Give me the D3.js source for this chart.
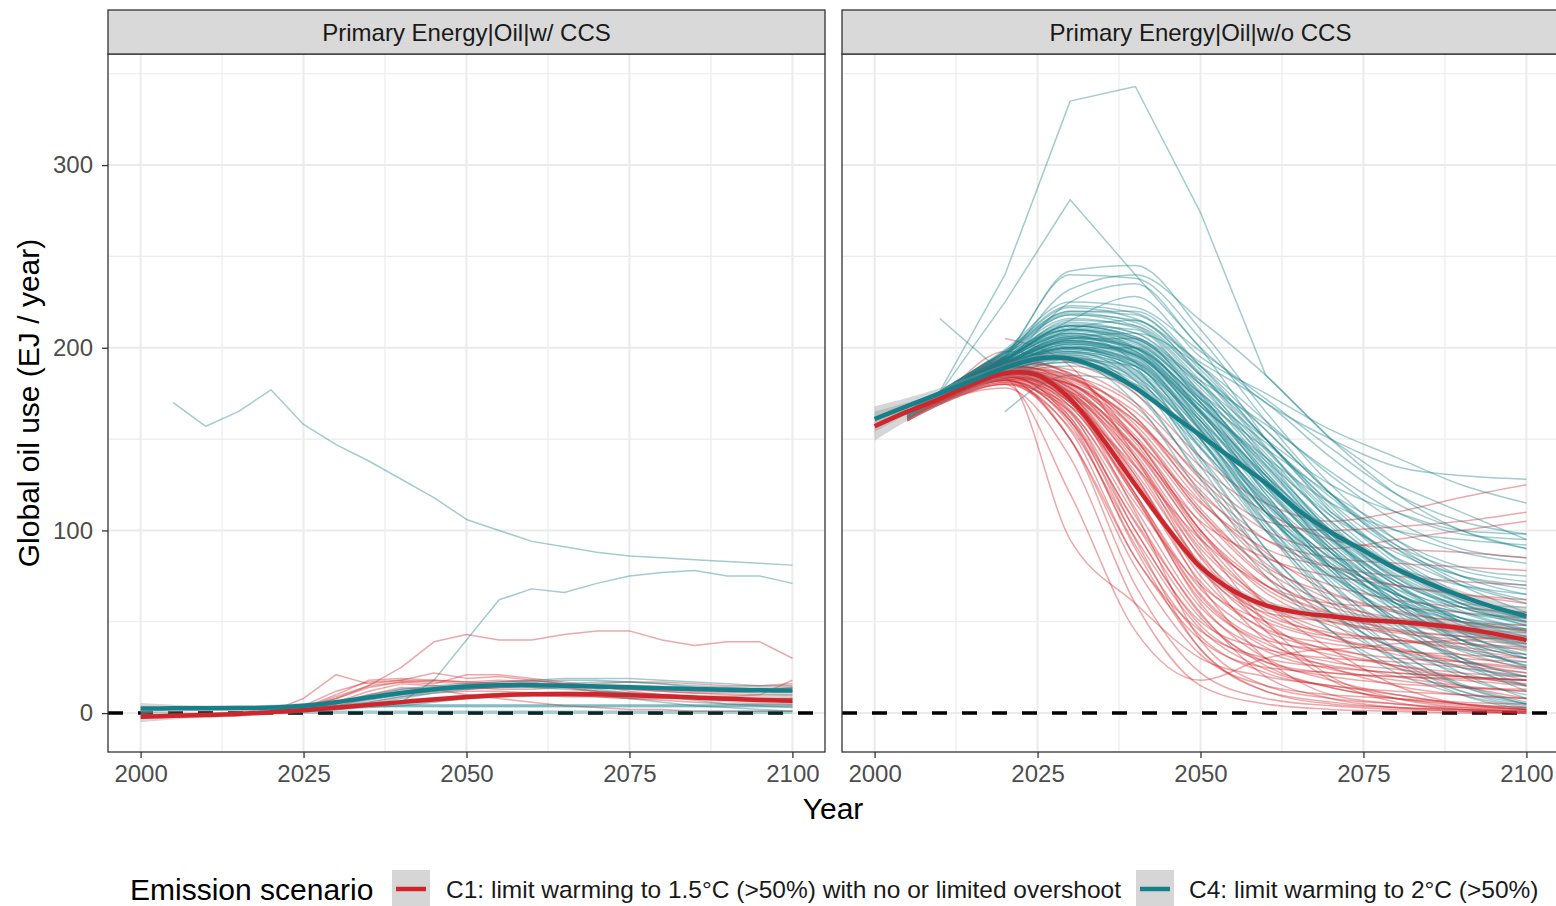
<!DOCTYPE html>
<html><head><meta charset="utf-8">
<script src="https://cdn.jsdelivr.net/npm/d3@7"></script>
<style>body{margin:0;background:#fff}svg{display:block}text{font-family:"Liberation Sans",Arial,sans-serif}</style>
</head><body><svg id="c" width="1556" height="906"></svg>
<script>
// ---------------- DATA ----------------
const facets = ["Primary Energy|Oil|w/ CCS", "Primary Energy|Oil|w/o CCS"];
const scenarios = ["C1: limit warming to 1.5°C (>50%) with no or limited overshoot", "C4: limit warming to 2°C (>50%)"];
const xTicks = [2000, 2025, 2050, 2075, 2100];
const yTicks = [0, 100, 200, 300];

// left facet (w/ CCS), 5-year grid
const yearsL = [2005,2010,2015,2020,2025,2030,2035,2040,2045,2050,2055,2060,2065,2070,2075,2080,2085,2090,2095,2100];
const redL = [
 [null,null,null,1,3,8,15,25,39,43,40,40,43,45,45,40,37,39,39,30],
 [null,null,null,1,8,21,16,18,17,16,17,18,16,15,14,13,12,12,13,14],
 [null,null,null,1,4,12,17,18,22,19,20,18,16,14,13,12,11,11,12,14],
 [null,null,null,1,3,9,15,17,16,21,21,19,17,15,12,10,9,9,10,18],
 [null,null,null,1,2,6,12,16,15,14,13,13,14,12,11,10,8,7,7,8],
 [null,null,null,0,1,4,8,12,13,13,14,15,15,14,13,12,11,10,10,10],
 [null,null,null,1,2,5,10,14,13,10,8,6,4,3,2,2,1,1,1,1],
 [null,null,null,1,3,8,14,17,18,17,16,15,15,16,17,17,16,15,15,16],
 [null,null,null,0,1,3,6,9,11,12,12,11,10,9,8,7,6,5,5,5],
 [null,null,null,0,1,2,4,6,8,9,10,10,9,9,8,8,8,8,8,8],
 [null,null,null,1,3,10,18,19,18,17,18,17,14,12,10,9,8,7,7,6]
];
const tealL = [
 [170,157,165,177,158,147,138,128,118,106,100,94,91,88,86,85,84,83,82,81],
 [null,null,null,2,2,3,4,6,18,40,62,68,66,71,75,77,78,75,75,71],
 [null,null,null,2,3,5,9,13,15,16,17,18,19,19,19,18,17,16,15,15],
 [null,null,null,2,3,6,10,13,14,15,16,17,18,18,17,16,15,14,13,12],
 [null,null,null,2,3,4,7,10,12,13,14,14,13,12,11,10,9,8,7,6],
 [null,null,null,2,2,3,4,4,4,4,4,4,4,4,4,4,4,4,4,4],
 [null,null,null,2,3,3.5,4,4.5,4.5,4.5,4.5,4.5,4.5,4.5,4.5,4.5,4.5,4.5,4.5,4.5],
 [null,null,null,2,2.5,3,3.5,3.5,3.5,3.5,3.5,3.5,3.5,3.5,3.5,3.5,3.5,3.5,3.5,3.5],
 [null,null,null,1,1,1,1,1,1,1,1,1,1,1,1,1,1,1,1,1],
 [null,null,null,0,0,0,0,0,0,0,0,0,0,0,0,0,0,0,0,0],
 [null,null,null,1,2,3,5,8,11,13,15,16,15,13,11,9,7,5,4,3],
 [null,null,null,1,1,2,3,4,6,8,10,11,11,10,8,6,4,3,2,1],
 [null,null,null,2,3,4,6,9,12,14,15,15,16,17,17,16,14,13,13,12]
];

// right facet (w/o CCS), 10-year grid
const yearsR = [2005,2010,2020,2030,2040,2050,2060,2070,2080,2090,2100];
const redR = [
 [163,171,182,150,70,22,8,4,2,1,0],
 [161,170,178,140,60,15,5,2,1,0,0],
 [164,172,185,160,90,35,12,5,3,2,1],
 [null,170,180,120,45,18,30,35,25,15,8],
 [162,171,183,95,60,30,20,15,10,5,2],
 [160,169,186,170,110,40,15,8,5,3,2],
 [165,173,190,175,120,60,30,18,10,5,3],
 [162,172,184,165,100,50,35,30,28,25,20],
 [163,170,181,155,85,45,30,25,22,20,18],
 [161,171,188,172,130,75,45,35,30,28,25],
 [164,172,189,178,140,90,60,45,40,35,30],
 [162,170,183,170,125,80,55,50,45,42,40],
 [163,171,186,180,150,100,70,55,50,45,42],
 [160,169,180,165,115,70,50,40,35,30,28],
 [165,174,195,185,155,110,80,65,55,50,45],
 [163,172,187,175,145,105,85,75,70,65,60],
 [162,171,184,176,150,115,90,80,75,72,70],
 [164,173,190,182,160,120,95,85,82,80,78],
 [161,170,182,168,135,95,70,60,58,55,52],
 [163,171,185,174,140,85,50,30,20,15,12],
 [164,173,192,188,170,135,110,95,90,88,85],
 [162,171,188,183,165,130,105,100,102,105,110],
 [165,174,198,192,175,140,115,105,110,118,125],
 [163,172,190,185,168,128,100,90,95,100,105],
 [161,170,186,180,160,125,95,80,70,65,62],
 [162,171,184,172,130,70,30,10,5,2,1],
 [164,172,189,178,145,95,50,20,8,3,1],
 [163,171,187,176,138,88,45,18,6,2,0],
 [160,170,182,160,105,55,20,8,3,1,0],
 [165,173,194,186,150,100,60,35,15,5,2],
 [null,null,205,190,140,80,40,25,15,10,8],
 [162,170,185,168,120,65,40,35,38,40,42],
 [163,172,188,180,155,110,75,55,45,38,35],
 [164,171,186,174,128,78,52,42,40,38,36],
 [161,170,183,150,85,40,25,22,20,18,15],
 [162,171,184,162,95,35,12,6,3,2,1],
 [163,172,187,177,142,92,62,48,36,28,22],
 [null,169,190,184,162,118,82,62,50,44,40],
 [164,173,191,181,148,98,68,52,42,32,25],
 [162,171,185,170,118,62,38,28,24,20,18],
 [162,170,183,158,92,42,22,15,12,10,8],
 [163,171,186,170,120,68,42,32,26,22,20],
 [161,170,181,150,80,32,15,10,8,6,5],
 [164,172,188,176,136,86,56,42,34,28,24],
 [162,171,184,166,112,58,34,24,18,14,12],
 [163,172,187,178,146,100,66,50,44,40,38],
 [165,173,192,184,158,116,86,70,62,58,55],
 [162,170,182,162,104,52,28,20,16,14,13],
 [163,171,185,172,126,72,46,38,34,32,30],
 [164,172,189,180,150,104,70,54,46,42,40],
 [161,169,180,156,96,46,24,14,8,5,3],
 [163,172,186,174,132,82,54,44,40,36,32],
 [162,171,184,168,118,64,36,26,22,20,18],
 [164,173,190,183,156,112,78,60,52,48,46],
 [163,171,187,175,135,80,48,34,26,20,16],
 [165,174,193,186,162,122,88,66,56,50,48],
 [162,170,183,164,108,54,26,14,8,4,2],
 [163,172,188,179,144,96,60,42,32,26,22],
 [161,170,182,160,100,48,28,22,20,19,18],
 [164,172,189,181,152,108,74,58,50,46,44]
];
const tealR = [
 [165,176,240,335,343,274,185,150,125,110,95],
 [164,175,225,281,240,200,150,110,85,70,60],
 [163,174,195,242,245,210,165,125,95,75,65],
 [164,175,196,240,238,205,160,120,90,70,55],
 [162,173,192,225,235,200,170,150,135,130,128],
 [163,174,194,215,228,195,175,155,140,125,115],
 [165,176,198,220,220,190,150,115,90,75,68],
 [162,173,190,210,215,185,145,110,85,65,50],
 [164,175,193,212,210,175,130,95,70,55,45],
 [163,174,191,205,205,170,125,90,60,40,30],
 [161,172,188,200,200,165,120,80,50,30,20],
 [164,175,195,208,198,160,115,85,65,55,50],
 [162,173,189,198,190,150,105,75,55,45,40],
 [163,174,192,203,195,155,110,70,40,20,10],
 [165,176,197,210,200,168,140,115,100,95,92],
 [162,172,187,195,185,145,100,65,40,25,15],
 [163,173,190,200,188,140,90,55,35,22,15],
 [164,175,194,212,205,180,150,125,110,100,98],
 [161,171,185,190,175,130,85,55,35,25,20],
 [163,174,191,205,208,190,160,130,105,90,85],
 [162,173,189,202,196,165,130,100,80,70,65],
 [164,175,193,215,212,185,155,120,95,80,75],
 [165,176,196,218,215,192,170,140,115,100,90],
 [null,null,165,185,180,140,100,75,60,50,45],
 [null,216,185,195,190,150,110,80,60,50,45],
 [163,174,192,198,182,135,85,50,30,15,5],
 [162,173,190,196,178,128,80,45,22,10,3],
 [164,175,194,207,192,150,100,60,30,12,4],
 [163,174,191,200,185,138,90,55,28,10,2],
 [161,172,186,192,170,120,75,45,25,12,5],
 [165,176,199,225,222,198,172,145,120,105,98],
 [163,174,192,206,200,172,145,120,100,88,82],
 [162,173,190,204,198,168,138,108,88,75,70],
 [164,175,195,214,208,178,142,105,80,62,55],
 [163,173,190,200,190,160,125,95,72,60,58],
 [162,172,188,197,188,155,118,88,68,58,55],
 [164,174,193,208,202,175,148,118,92,78,72],
 [163,174,191,203,196,162,122,88,62,45,38],
 [162,173,189,199,192,158,112,78,52,35,28],
 [165,175,197,220,218,188,150,112,82,62,52],
 [163,174,192,205,200,170,135,100,75,58,48],
 [164,175,194,210,205,175,140,105,78,60,50],
 [162,173,188,195,180,145,108,80,62,52,48],
 [163,174,193,212,206,182,158,132,110,98,95],
 [161,172,187,194,184,152,115,85,65,52,46],
 [164,175,195,232,240,215,185,150,120,100,90],
 [163,173,188,192,182,148,110,82,65,55,52],
 [164,174,192,204,196,165,128,96,72,58,50],
 [163,174,192,206,198,165,120,80,50,28,12],
 [162,173,190,200,192,155,105,65,35,15,5],
 [164,175,194,210,204,172,130,88,55,30,15],
 [163,174,191,204,196,160,112,72,42,22,8],
 [165,176,197,218,212,182,140,98,64,40,25],
 [162,172,188,196,186,150,102,62,34,16,6],
 [163,173,190,202,194,162,118,78,48,28,18],
 [164,175,193,208,200,170,128,90,60,40,30],
 [163,174,192,205,199,166,124,86,58,38,26],
 [162,173,189,198,190,154,110,74,50,34,24],
 [164,175,195,212,206,176,136,96,66,44,32],
 [165,176,198,222,216,186,146,104,72,50,38],
 [163,174,191,203,197,164,126,92,66,48,36],
 [162,172,187,194,183,146,104,70,46,30,20],
 [164,174,193,209,203,173,134,98,70,50,40],
 [163,173,190,201,193,158,116,82,58,42,34],
 [164,175,194,211,205,174,132,94,68,52,44],
 [162,173,189,199,191,156,114,80,56,40,32],
 [165,176,196,216,211,180,138,100,74,56,46],
 [163,174,192,206,200,168,128,92,64,44,30],
 [164,175,195,213,208,180,144,108,80,60,48],
 [162,172,188,197,187,152,110,76,52,36,26],
 [163,173,190,202,195,164,124,88,62,46,38],
 [165,175,197,219,214,185,150,114,84,64,54],
 [164,174,193,207,201,170,132,96,70,52,42],
 [163,174,191,204,197,166,130,98,74,58,50],
 [162,173,189,200,193,160,122,90,66,50,42],
 [164,175,194,210,203,172,136,102,76,60,52],
 [163,173,190,201,192,157,117,84,60,45,36],
 [165,176,198,223,219,190,155,120,92,72,62]
];
// outlier pathways in the right facet that show sharp corners
const angularTeal = [0, 1, 24];

// smoothed trends (geom_smooth) and their standard-error half widths
const yearsS = [2000,2005,2010,2015,2020,2025,2030,2035,2040,2045,2050,2055,2060,2065,2070,2075,2080,2085,2090,2095,2100];
const redSmoothL  = [-2,-1.5,-1,-0.5,0.5,1.5,3,4.5,6,7.5,8.8,9.8,10.3,10.5,10.3,9.8,9.2,8.5,7.8,7.2,6.8];
const redSeL      = [3,2,1.5,1.5,1.5,1.5,1.5,1.5,1.5,1.5,1.5,1.5,1.5,1.5,1.5,1.5,1.5,1.5,2,2.5,3];
const tealSmoothL = [2.5,2.6,2.7,2.8,3,4,6,8.5,11,13,14.5,15.2,15.3,15,14.6,14.1,13.6,13.2,12.8,12.5,12.3];
const tealSeL     = [3,2,1.5,1.5,1.5,1.5,1.5,1.5,1.5,1.5,1.5,1.5,1.5,1.5,1.5,1.5,1.5,1.5,2,2.5,3];
const redSmoothR  = [157,165,172,180,186,185,172,150,125,101,80,67,59,55,53,51,50,48.5,46.5,43.5,40];
const redSeR      = [8,5,3.5,3,2.5,2.5,2.5,2.5,2.5,2.5,2.5,2.5,2.5,2.5,2.5,2.5,2.5,3,3.5,4.5,5.5];
const tealSmoothR = [161,168,175,182,189,194,194,188,178,165,152,139,126,111,99,89,79,71,64,58,53];
const tealSeR     = [7,4.5,3,2.5,2,2,2,2,2,2,2,2,2,2,2,2,2,2.5,3,3.5,4.5];

// ---------------- DRAW ----------------
const RED = "#d0262b", TEAL = "#16808a";
const FONT = "Liberation Sans, Arial, sans-serif";
const svg = d3.select("#c");
const panelTop = 54, panelBottom = 752, stripTop = 10;
const panels = [
  {x0:108, x1:825, title:facets[0], years:yearsL, red:redL, teal:tealL, curve:d3.curveLinear, angular:[],
   rs:redSmoothL, rse:redSeL, ts:tealSmoothL, tse:tealSeL},
  {x0:842, x1:1559, title:facets[1], years:yearsR, red:redR, teal:tealR, curve:d3.curveMonotoneX, angular:angularTeal,
   rs:redSmoothR, rse:redSeR, ts:tealSmoothR, tse:tealSeR}
];
const y = d3.scaleLinear().domain([-21.3, 360.8]).range([panelBottom, panelTop]);

panels.forEach((p, pi) => {
  const x = d3.scaleLinear().domain([1995, 2105]).range([p.x0, p.x1]);
  const g = svg.append("g");
  const cid = "clip" + pi;
  svg.append("clipPath").attr("id", cid).append("rect")
    .attr("x", p.x0).attr("y", panelTop).attr("width", p.x1 - p.x0).attr("height", panelBottom - panelTop);

  const minorX = [2012.5, 2037.5, 2062.5, 2087.5];
  const minorY = [50, 150, 250, 350];
  g.selectAll(".mx").data(minorX).join("line").attr("x1", d=>x(d)).attr("x2", d=>x(d))
    .attr("y1", panelTop).attr("y2", panelBottom).attr("stroke", "#ebebeb").attr("stroke-width", 1.1);
  g.selectAll(".my").data(minorY).join("line").attr("y1", d=>y(d)).attr("y2", d=>y(d))
    .attr("x1", p.x0).attr("x2", p.x1).attr("stroke", "#ebebeb").attr("stroke-width", 1.1);
  g.selectAll(".Mx").data(xTicks).join("line").attr("x1", d=>x(d)).attr("x2", d=>x(d))
    .attr("y1", panelTop).attr("y2", panelBottom).attr("stroke", "#ebebeb").attr("stroke-width", 2);
  g.selectAll(".My").data(yTicks).join("line").attr("y1", d=>y(d)).attr("y2", d=>y(d))
    .attr("x1", p.x0).attr("x2", p.x1).attr("stroke", "#ebebeb").attr("stroke-width", 2);

  const inner = svg.append("g").attr("clip-path", `url(#${cid})`);
  inner.append("line").attr("x1", p.x0).attr("x2", p.x1).attr("y1", y(0)).attr("y2", y(0))
    .attr("stroke", "#000").attr("stroke-width", 3.5).attr("stroke-dasharray", "15,15");

  const smoothLine = d3.line().defined(d => d[1] != null).x(d => x(d[0])).y(d => y(d[1])).curve(p.curve);
  const sharpLine = d3.line().defined(d => d[1] != null).x(d => x(d[0])).y(d => y(d[1]));
  const series = [];
  const n = Math.max(p.red.length, p.teal.length);
  for (let i = 0; i < n; i++) {
    if (p.red[i]) series.push({c: RED, v: p.red[i], sharp: false});
    if (p.teal[i]) series.push({c: TEAL, v: p.teal[i], sharp: p.angular.includes(i)});
  }
  inner.selectAll(".thin").data(series).join("path")
    .attr("d", s => (s.sharp ? sharpLine : smoothLine)(p.years.map((yr, k) => [yr, s.v[k]])))
    .attr("fill", "none").attr("stroke", s => s.c).attr("stroke-opacity", 0.4).attr("stroke-width", 1.5)
    .attr("stroke-linejoin", "round");

  const area = d3.area().x(d => x(d[0])).y0(d => y(d[1] - d[2])).y1(d => y(d[1] + d[2])).curve(d3.curveCatmullRom);
  const sline = d3.line().x(d => x(d[0])).y(d => y(d[1])).curve(d3.curveCatmullRom);
  [[p.rs, p.rse], [p.ts, p.tse]].forEach(([m, se]) => {
    inner.append("path").attr("d", area(yearsS.map((yr, k) => [yr, m[k], se[k]])))
      .attr("fill", "#999999").attr("fill-opacity", 0.4);
  });
  [[p.rs, RED], [p.ts, TEAL]].forEach(([m, c]) => {
    inner.append("path").attr("d", sline(yearsS.map((yr, k) => [yr, m[k]])))
      .attr("fill", "none").attr("stroke", c).attr("stroke-width", 4.5);
  });

  svg.append("rect").attr("x", p.x0).attr("y", panelTop).attr("width", p.x1 - p.x0).attr("height", panelBottom - panelTop)
    .attr("fill", "none").attr("stroke", "#333333").attr("stroke-width", 1.3);
  svg.append("rect").attr("x", p.x0).attr("y", stripTop).attr("width", p.x1 - p.x0).attr("height", panelTop - stripTop)
    .attr("fill", "#d9d9d9").attr("stroke", "#333333").attr("stroke-width", 1.3);
  svg.append("text").attr("x", (p.x0 + p.x1) / 2).attr("y", 40.5).attr("text-anchor", "middle")
    .attr("font-size", 24).attr("fill", "#1a1a1a").text(p.title);

  const xa = svg.append("g").attr("transform", `translate(0,${panelBottom})`)
    .call(d3.axisBottom(x).tickValues(xTicks).tickFormat(d3.format("d")).tickSize(6).tickPadding(7));
  xa.select(".domain").remove();
  xa.selectAll("line").attr("stroke", "#333333").attr("stroke-width", 1.3);
  xa.selectAll("text").attr("font-size", 24).attr("fill", "#4d4d4d").attr("font-family", FONT);

  if (pi === 0) {
    const ya = svg.append("g").attr("transform", `translate(${p.x0},0)`)
      .call(d3.axisLeft(y).tickValues(yTicks).tickSize(6).tickPadding(9));
    ya.select(".domain").remove();
    ya.selectAll("line").attr("stroke", "#333333").attr("stroke-width", 1.3);
    ya.selectAll("text").attr("font-size", 24).attr("fill", "#4d4d4d").attr("font-family", FONT);
  }
});

svg.append("text").attr("x", 833).attr("y", 819).attr("text-anchor", "middle").attr("font-size", 30).attr("fill", "#000").text("Year");
svg.append("text").attr("transform", "translate(39,403) rotate(-90)").attr("text-anchor", "middle")
  .attr("font-size", 30).attr("fill", "#000").text("Global oil use (EJ / year)");

const lg = svg.append("g");
lg.append("text").attr("x", 130).attr("y", 900).attr("font-size", 30).attr("fill", "#000").text("Emission scenario");
const legendItems = [{c: RED, label: scenarios[0], kx: 392, tx: 446}, {c: TEAL, label: scenarios[1], kx: 1136, tx: 1189}];
legendItems.forEach(it => {
  lg.append("rect").attr("x", it.kx).attr("y", 870).attr("width", 38).attr("height", 40).attr("fill", "#d6d6d6");
  lg.append("line").attr("x1", it.kx + 4).attr("x2", it.kx + 34).attr("y1", 889).attr("y2", 889)
    .attr("stroke", it.c).attr("stroke-width", 4.5);
  lg.append("text").attr("x", it.tx).attr("y", 898).attr("font-size", 24.5).attr("fill", "#1a1a1a").text(it.label);
});
</script></body></html>
